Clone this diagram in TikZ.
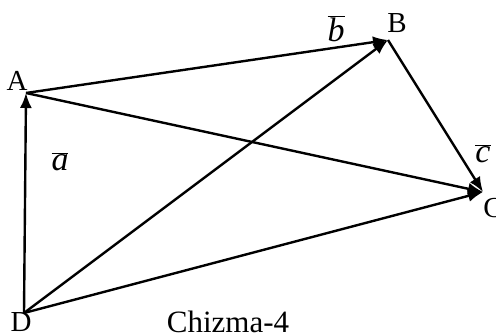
\documentclass[tikz,border=0pt]{standalone}
\usepackage{fontspec}
\setmainfont{Liberation Serif}
\usetikzlibrary{arrows.meta}
\tikzset{vec/.style={line width=2.4pt,-{Latex[length=15pt,width=12pt]}},
  lbl/.style={inner sep=0pt,font=\fontsize{29}{34}\selectfont},
  veclbl/.style={inner sep=0pt,font=\fontsize{34}{40}\selectfont}}
\begin{document}
\begin{tikzpicture}[x=1pt,y=-1pt]
	\useasboundingbox (0,0) rectangle (496,336);
	\clip (0,0) rectangle (496,336); % Clips the C label at the edge
	\coordinate (A) at (26,93);
	\coordinate (B) at (388,40);
	\coordinate (C) at (483,192);
	\coordinate (D) at (24,313);
	% the vectors
	\draw [vec] (D) -- (A);
	\draw [vec] (A) -- (B);
	\draw [vec] (D) -- (B);
	\draw [vec] (B) -- (C);
	\draw [vec] (A) -- (C);
	\draw [vec] (D) -- (C);
	% vertex labels
	\node [lbl] (Alab) at (17,81) {A};
	\node [lbl] (Blab) at (397,23) {B};
	\node [lbl] (Clab) at (493,208) {C};
	\node [lbl] (Dlab) at (21,322) {D};
	% vector labels
	\node [veclbl] (alab) at (60,162) {$\overline{\mbox{\textit{a}}}$};
	\node [veclbl] (blab) at (336,29) {$\overline{\mbox{\textit{b}}}$};
	\node [veclbl] (clab) at (483,154) {$\overline{\mbox{\textit{c}}}$};
	\node [lbl,font=\fontsize{31}{36}\selectfont] (title) at (228,322) {Chizma-4};
\end{tikzpicture}
\end{document}
